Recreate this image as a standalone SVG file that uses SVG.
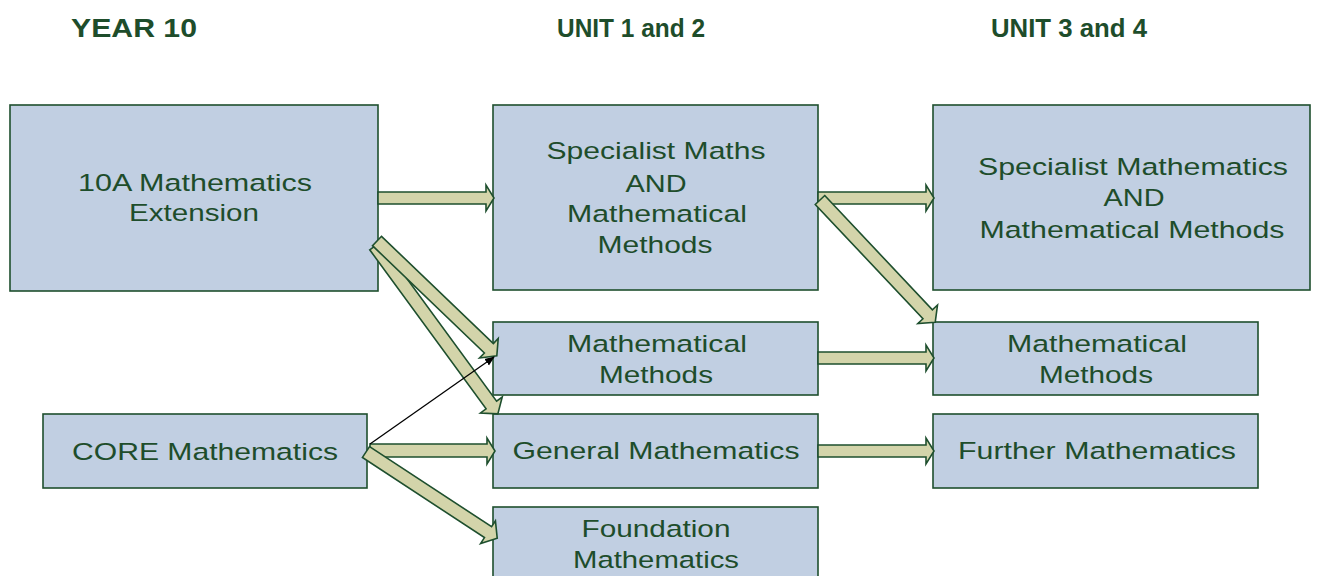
<svg xmlns="http://www.w3.org/2000/svg" width="1322" height="576" viewBox="0 0 1322 576">
<style>
.box{fill:#c1cfe2;stroke:#1e4f2e;stroke-width:1.6}
.t{font-family:"Liberation Sans",Arial,sans-serif;font-size:24.5px;fill:#1e4d2b;text-anchor:middle}
.h{font-family:"Liberation Sans",Arial,sans-serif;font-size:26px;font-weight:bold;fill:#1e4d2b}
.ar{fill:#d3d4aa;stroke:#1e4f2e;stroke-width:1.6;stroke-linejoin:miter}
.ln{stroke:#000;stroke-width:1.3;fill:none}
</style>
<defs>
<marker id="blk" viewBox="0 0 10 10" refX="9" refY="5" markerWidth="10" markerHeight="10" markerUnits="userSpaceOnUse" orient="auto">
<path d="M0,1 L10,5 L0,9 Z" fill="#000"/>
</marker>
</defs>
<rect width="1322" height="576" fill="#fff"/>
<g id="headers">
<text class="h" x="71" y="37" textLength="126" lengthAdjust="spacingAndGlyphs">YEAR 10</text>
<text class="h" x="557" y="37" textLength="148" lengthAdjust="spacingAndGlyphs">UNIT 1 and 2</text>
<text class="h" x="991" y="37" textLength="156" lengthAdjust="spacingAndGlyphs">UNIT 3 and 4</text>
</g>
<g id="n-10a">
<rect class="box" x="10" y="105" width="368" height="186"/>
<text class="t" x="195" y="191" textLength="234" lengthAdjust="spacingAndGlyphs">10A Mathematics</text>
<text class="t" x="194" y="221" textLength="130" lengthAdjust="spacingAndGlyphs">Extension</text>
</g>
<g id="n-spec12">
<rect class="box" x="493" y="105" width="325" height="185"/>
<text class="t" x="656" y="159" textLength="219" lengthAdjust="spacingAndGlyphs">Specialist Maths</text>
<text class="t" x="656" y="192" textLength="61" lengthAdjust="spacingAndGlyphs">AND</text>
<text class="t" x="657" y="222" textLength="180" lengthAdjust="spacingAndGlyphs">Mathematical</text>
<text class="t" x="655" y="253" textLength="115" lengthAdjust="spacingAndGlyphs">Methods</text>
</g>
<g id="n-spec34">
<rect class="box" x="933" y="105" width="377" height="185"/>
<text class="t" x="1133" y="175" textLength="310" lengthAdjust="spacingAndGlyphs">Specialist Mathematics</text>
<text class="t" x="1134" y="206" textLength="61" lengthAdjust="spacingAndGlyphs">AND</text>
<text class="t" x="1132" y="238" textLength="305" lengthAdjust="spacingAndGlyphs">Mathematical Methods</text>
</g>
<g id="n-mm12">
<rect class="box" x="493" y="322" width="325" height="73"/>
<text class="t" x="657" y="352" textLength="180" lengthAdjust="spacingAndGlyphs">Mathematical</text>
<text class="t" x="656" y="383" textLength="114" lengthAdjust="spacingAndGlyphs">Methods</text>
</g>
<g id="n-gen">
<rect class="box" x="493" y="414" width="325" height="74"/>
<text class="t" x="656" y="459" textLength="287" lengthAdjust="spacingAndGlyphs">General Mathematics</text>
</g>
<g id="n-found">
<rect class="box" x="493" y="507" width="325" height="80"/>
<text class="t" x="656" y="537" textLength="149" lengthAdjust="spacingAndGlyphs">Foundation</text>
<text class="t" x="656" y="568" textLength="166" lengthAdjust="spacingAndGlyphs">Mathematics</text>
</g>
<g id="n-mm34">
<rect class="box" x="933" y="322" width="325" height="73"/>
<text class="t" x="1097" y="352" textLength="180" lengthAdjust="spacingAndGlyphs">Mathematical</text>
<text class="t" x="1096" y="383" textLength="114" lengthAdjust="spacingAndGlyphs">Methods</text>
</g>
<g id="n-further">
<rect class="box" x="933" y="414" width="325" height="74"/>
<text class="t" x="1097" y="459" textLength="278" lengthAdjust="spacingAndGlyphs">Further Mathematics</text>
</g>
<g id="n-core">
<rect class="box" x="43" y="414" width="324" height="74"/>
<text class="t" x="205" y="460" textLength="266" lengthAdjust="spacingAndGlyphs">CORE Mathematics</text>
</g>
<g id="connectors">
<polygon class="ar" points="378,192 486,192 486,185 494,198 486,211 486,204 378,204"/>
<polygon class="ar" points="818,192 926,192 926,185 934,198 926,211 926,204 818,204"/>
<polygon class="ar" points="818,352 926,352 926,345 934,358 926,371 926,364 818,364"/>
<polygon class="ar" points="818,445 926,445 926,438 934,451 926,464 926,457 818,457"/>
<polygon class="ar" points="370,444 487,444 487,438 495,451 487,464 487,457 370,457"/>
<polygon class="ar" transform="translate(375,246) rotate(53.8)" points="0,-6.5 197,-6.5 197,-13.5 208,0 197,13.5 197,6.5 0,6.5"/>
<polygon class="ar" transform="translate(377,241) rotate(43.8)" points="0,-6.5 155,-6.5 155,-13.5 166,0 155,13.5 155,6.5 0,6.5"/>
<polygon class="ar" transform="translate(820,200) rotate(46.7)" points="0,-6.5 157,-6.5 157,-13.5 168,0 157,13.5 157,6.5 0,6.5"/>
<polygon class="ar" transform="translate(366,452) rotate(33.3)" points="0,-6.5 146,-6.5 146,-13.5 157,0 146,13.5 146,6.5 0,6.5"/>
<line class="ln" x1="370" y1="444" x2="494" y2="357" marker-end="url(#blk)"/>
</g>
</svg>
